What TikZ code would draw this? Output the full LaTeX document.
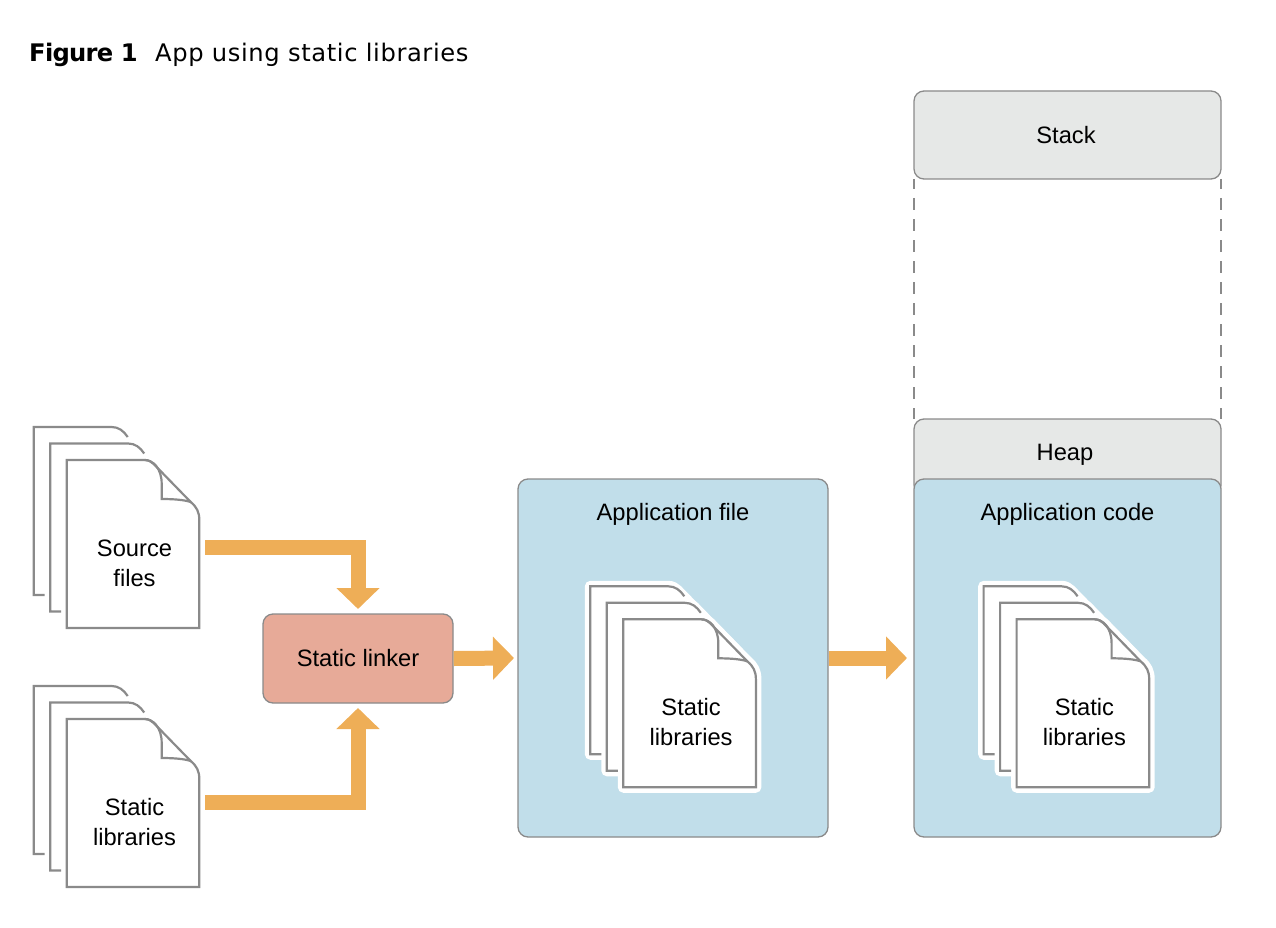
\documentclass[tikz,border=0pt]{standalone}
\usepackage{fontspec}
\setmainfont{Liberation Sans}
\newfontfamily\titlefont[LetterSpace=2.5]{DejaVu Sans}
\newfontfamily\titleboldfont[LetterSpace=-3]{DejaVu Sans Bold}
\usetikzlibrary{arrows.meta}

\definecolor{AppBlue}{HTML}{C1DEEA}
\definecolor{MemGray}{HTML}{E6E8E7}
\definecolor{LinkerRed}{HTML}{E7AA98}
\definecolor{FlowOrange}{HTML}{EEAE57}
\definecolor{EdgeGray}{HTML}{8A8A8A}

\tikzset{
    box/.style={draw=EdgeGray, line width=1.3pt, rounded corners=10pt, outer sep=0pt, inner sep=0pt, align=center},
    boxlabel/.style={font=\fontsize{23.7}{30}\selectfont, align=center},
    memdash/.style={draw=EdgeGray, line width=1.3pt, dash pattern=on 12pt off 9pt, dash phase=2pt},
    pageline/.style={draw=EdgeGray, line width=2.2pt, line join=miter},
    halo/.style={draw=white, fill=white, line width=11pt, line join=round},
    flow/.style={draw=FlowOrange, line width=15pt, -{Triangle[width=42pt, length=21pt]}},
    pagefront/.style={insert path={(0,0) -- (78,0) .. controls (82,0) and (85,2) .. (87,4) -- (124,42) .. controls (130,47) and (132.6,52) .. (132.6,60) -- (132.6,168) -- (0,168) -- cycle}},
    pageback/.style={insert path={(11,168) -- (0,168) -- (0,0) -- (78,0) .. controls (85,0) and (90,4) .. (94,10)}}
}

% #1 name, #2 #3 top left of the front page, #4 text
\newcommand{\docstack}[4]{
    \begin{scope}[shift={(#2,#3)}]
        \path[pageline, shift={(-33,-33)}, pageback];
        \path[pageline, shift={(-16.5,-16.5)}, pageback];
        \path[pageline, fill=white, pagefront];
        \draw[pageline] (78,0) .. controls (86,0) and (95,8) .. (95,24) -- (95,39) .. controls (108,39) and (118,40) .. (124,42);
        \node (#1) at (67.8,103) [boxlabel] {#4};
    \end{scope}
}
% white edge under a stack that sits on a box
\newcommand{\dochalo}[2]{
    \begin{scope}[shift={(#1,#2)}]
        \path[halo, shift={(-33,-33)}, pagefront];
        \path[halo, shift={(-16.5,-16.5)}, pagefront];
        \path[halo, pagefront];
    \end{scope}
}

\begin{document}
\begin{tikzpicture}[x=1pt, y=-1pt]
    \useasboundingbox (0,0) rectangle (1276,928);

    \node (title-num) at (29,62)[anchor=base west, inner sep=0pt, font=\titleboldfont\fontsize{24.2}{28}\selectfont] {Figure 1};
    \node (title) at (155,62)[anchor=base west, inner sep=0pt, font=\titlefont\fontsize{24.2}{28}\selectfont] {App using static libraries};

    \node (stack) at (1067.5,135)[box, fill=MemGray, minimum width=307pt, minimum height=88pt] {};
    \node (heap) at (1067.5,457)[box, fill=MemGray, minimum width=307pt, minimum height=76pt] {};
    \node (app-code) at (1067.5,658)[box, fill=AppBlue, minimum width=307pt, minimum height=358pt] {};
    \node (app-file) at (673,658)[box, fill=AppBlue, minimum width=310pt, minimum height=358pt] {};
    \node (linker) at (358,658.5)[box, fill=LinkerRed, minimum width=190pt, minimum height=89pt, font=\fontsize{23.7}{30}\selectfont] {Static linker};

    \node (stack-label) at (1066,135)[boxlabel] {Stack};
    \node (heap-label) at (1065,454.5)[boxlabel] {Heap};
    \node (code-label) at (1067.5,514)[boxlabel] {Application code};
    \node (file-label) at (673,514)[boxlabel] {Application file};

    \draw[memdash] (stack.south west) -- (heap.north west);
    \draw[memdash] (stack.south east) -- (heap.north east);

    \docstack{source}{66.7}{460}{Source\\files}
    \docstack{objects}{66.7}{719}{Static\\libraries}
    \dochalo{623.3}{619.3}
    \docstack{file-libs}{623.3}{619.3}{Static\\libraries}
    \dochalo{1016.6}{619.3}
    \docstack{code-libs}{1016.6}{619.3}{Static\\libraries}

    \coordinate (source-out) at (205,547.5);
    \coordinate (objects-out) at (205,802.5);

    \draw[flow] (source-out) -| ([yshift=5pt]linker.north);
    \draw[flow] (objects-out) -| ([yshift=-5pt]linker.south);
    \draw[flow] ([xshift=0.7pt]linker.east) -- ([xshift=-4pt]app-file.west);
    \draw[flow] ([xshift=0.7pt]app-file.east) -- ([xshift=-7pt]app-code.west);
\end{tikzpicture}
\end{document}
